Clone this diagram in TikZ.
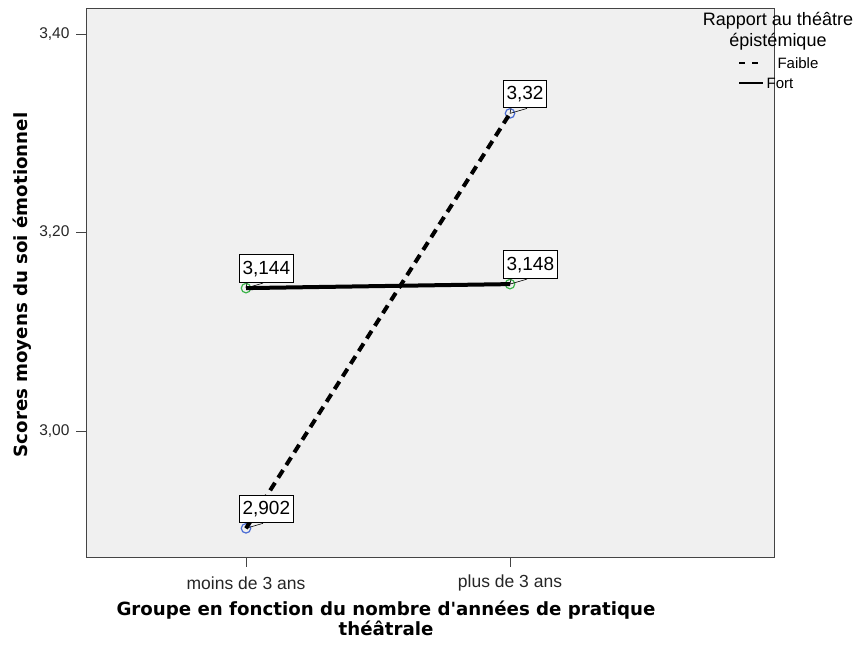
\documentclass[tikz,border=0pt]{standalone}
\usepackage{fontspec}
\setmainfont{Liberation Sans}
\newfontfamily\titlefont{DejaVu Sans}
\usetikzlibrary{positioning}

\definecolor{plotbg}{HTML}{F0F0F0}
\definecolor{framegray}{HTML}{444444}
\definecolor{fortgreen}{HTML}{3CB44B}
\definecolor{faibleblue}{HTML}{4A6CD4}

\tikzset{
  marker/.style={circle, draw, inner sep=0pt, minimum size=9.5pt, line width=1.2pt},
  faiblemark/.style={marker, draw=faibleblue},
  fortmark/.style={marker, draw=fortgreen},
  faibleline/.style={line width=4pt, dash pattern=on 9pt off 6pt},
  fortline/.style={line width=4pt},
  valbox/.style={draw, fill=white, line width=1.1pt, inner xsep=3pt, inner ysep=6pt,
    anchor=south west, font=\fontsize{19}{19}\selectfont},
  tail/.style={line width=0.6pt},
  ticklab/.style={text=black!85, font=\fontsize{17.5}{17.5}\selectfont},
  axtitle/.style={font=\titlefont\bfseries\fontsize{18.2}{20}\selectfont, align=center},
}

\begin{document}
\begin{tikzpicture}[x=1pt, y=-1pt]
   \useasboundingbox (0,0) rectangle (853,646);

   % plot area
   \draw[framegray, fill=plotbg, line width=1pt] (86,8) rectangle (774,557);

   % y axis
   \foreach \yy/\lab in {34/{3,40}, 232.5/{3,20}, 431/{3,00}} {
      \draw[framegray, line width=1pt] (76,\yy) -- (86,\yy);
      \node[ticklab, font=\fontsize{15.5}{15.5}\selectfont, anchor=east] at (73,\yy) {\lab};
   }
   % x axis
   \foreach \xx/\lab in {246/{moins de 3 ans}, 510/{plus de 3 ans}} {
      \draw[framegray, line width=1pt] (\xx,557) -- (\xx,567);
      \node[ticklab] at (\xx,583) {\lab};
   }

   \node[axtitle] (xtitle) at (386,618) {Groupe en fonction du nombre d'années de pratique\\théâtrale};
   \node[axtitle, rotate=90] (ytitle) at (22,285) {Scores moyens du soi émotionnel};

   % markers
   \node[faiblemark] (faibleA) at (246,528.3) {};
   \node[faiblemark] (faibleB) at (510,113.4) {};
   \node[fortmark] (fortA) at (246,288.1) {};
   \node[fortmark] (fortB) at (510,284.1) {};

   % lines
   \draw[faibleline] (faibleA.center) -- (faibleB.center);
   \draw[fortline] (fortA.center) -- (fortB.center);

   % value labels
   \foreach \pt/\val in {faibleA/{2,902}, faibleB/{3,32}, fortA/{3,144}, fortB/{3,148}} {
      \node[valbox] (box\pt) at ([xshift=-7pt, yshift=5pt]\pt.center) {\val};
      \draw[tail] (\pt.center) -- ([xshift=8pt]box\pt.south west)
                  (\pt.center) -- ([xshift=24pt]box\pt.south west);
   }

   % legend
   \node[font=\fontsize{18}{21}\selectfont, align=center] (legtitle) at (778,31)
        {Rapport au théâtre\\épistémique};
   \coordinate (legA) at (739,63);
   \coordinate (legB) at (739,83);
   \draw[line width=1.5pt, dash pattern=on 6pt off 7pt] (legA) -- ++(23,0) coordinate (legAend);
   \node[font=\fontsize{15}{15}\selectfont, anchor=west] (legfaible) at ([xshift=12pt]legAend) {Faible};
   \draw[line width=1.5pt] (legB) -- ++(24,0) coordinate (legBend);
   \node[font=\fontsize{15}{15}\selectfont, anchor=west, inner xsep=3.5pt] (legfort) at (legBend) {Fort};
\end{tikzpicture}
\end{document}
